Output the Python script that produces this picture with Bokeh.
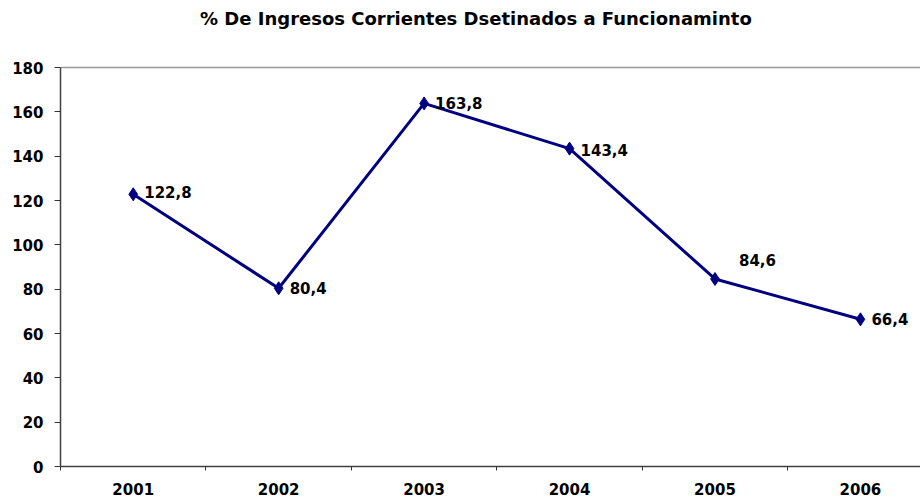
from bokeh.plotting import figure
from bokeh.models import ColumnDataSource, FixedTicker, Label
from bokeh.core.properties import value
from bokeh.embed import file_html
from bokeh.resources import INLINE

years = ["2001", "2002", "2003", "2004", "2005", "2006"]
values = [122.8, 80.4, 163.8, 143.4, 84.6, 66.4]
y_ticks = [0, 20, 40, 60, 80, 100, 120, 140, 160, 180]
title_text = "% De Ingresos Corrientes Dsetinados a Funcionaminto"

xs = list(range(len(years)))
labels = [f"{v:.1f}".replace(".", ",") for v in values]
# label placement (style)
lx_off = [11, 11, 11, 11, 24, 11]
ly_off = [-2, 0, 0, 1, -19, 0]

src = ColumnDataSource(dict(x=xs, y=values, lab=labels, xo=lx_off, yo=ly_off))

FONT = "DejaVu Sans"
Y_MAX = 180
AXIS_PX = 399      # pixel height of the 0..180 axis
FRAME_PX = 466     # frame height (axis + room for the title above it)
TITLE_PX = 448     # title centre, px above the 0 line

p = figure(width=920, height=498, output_backend="svg", toolbar_location=None,
           x_range=(-0.5, 5.413), y_range=(0, Y_MAX * FRAME_PX / AXIS_PX),
           min_border_left=60, min_border_right=0, min_border_top=0,
           min_border_bottom=32)
p.title = None

p.add_layout(Label(x=2.356, y=Y_MAX * TITLE_PX / AXIS_PX,
                   text=title_text, text_align="center", text_baseline="middle",
                   text_font=FONT, text_font_size="18px", text_font_style="bold",
                   text_color="black"))

p.outline_line_color = None
p.background_fill_color = "white"
p.border_fill_color = "white"

p.xgrid.visible = False
p.ygrid.ticker = FixedTicker(ticks=[Y_MAX])
p.ygrid.grid_line_color = "#9a9a9a"
p.ygrid.grid_line_width = 1.5

# x axis
p.xaxis.ticker = FixedTicker(ticks=xs, minor_ticks=[i + 0.5 for i in range(-1, len(years))])
p.xaxis.major_label_overrides = {i: y for i, y in enumerate(years)}
p.xaxis.major_tick_line_color = None
p.xaxis.major_tick_out = 0
p.xaxis.major_tick_in = 0
p.xaxis.minor_tick_out = 4
p.xaxis.minor_tick_in = 0
p.xaxis.minor_tick_line_color = "#333333"
p.xaxis.major_label_standoff = 12
p.xaxis.major_label_text_font = FONT
p.xaxis.major_label_text_font_size = "15px"
p.xaxis.major_label_text_font_style = "bold"
p.xaxis.major_label_text_color = "black"
p.xaxis.axis_line_color = "#404040"
p.xaxis.axis_line_width = 1.5

# y axis
p.yaxis.ticker = FixedTicker(ticks=y_ticks)
p.yaxis.bounds = (0, Y_MAX)
p.yaxis.minor_tick_line_color = None
p.yaxis.major_tick_out = 6
p.yaxis.major_tick_in = 0
p.yaxis.major_tick_line_color = "#333333"
p.yaxis.major_label_standoff = 11
p.yaxis.major_label_text_font = FONT
p.yaxis.major_label_text_font_size = "15px"
p.yaxis.major_label_text_font_style = "bold"
p.yaxis.major_label_text_color = "black"
p.yaxis.axis_line_color = "#404040"
p.yaxis.axis_line_width = 1.5

p.line("x", "y", source=src, line_color="#000080", line_width=3)
p.scatter("x", "y", source=src, marker="diamond", size=13,
          fill_color="#000080", line_color="#000080")
p.text("x", "y", text="lab", source=src, x_offset="xo", y_offset="yo",
       text_font=value(FONT), text_font_size="15px", text_font_style="bold",
       text_color="black", text_align="left", text_baseline="middle")

open("out.html", "w").write(file_html(p, INLINE))
